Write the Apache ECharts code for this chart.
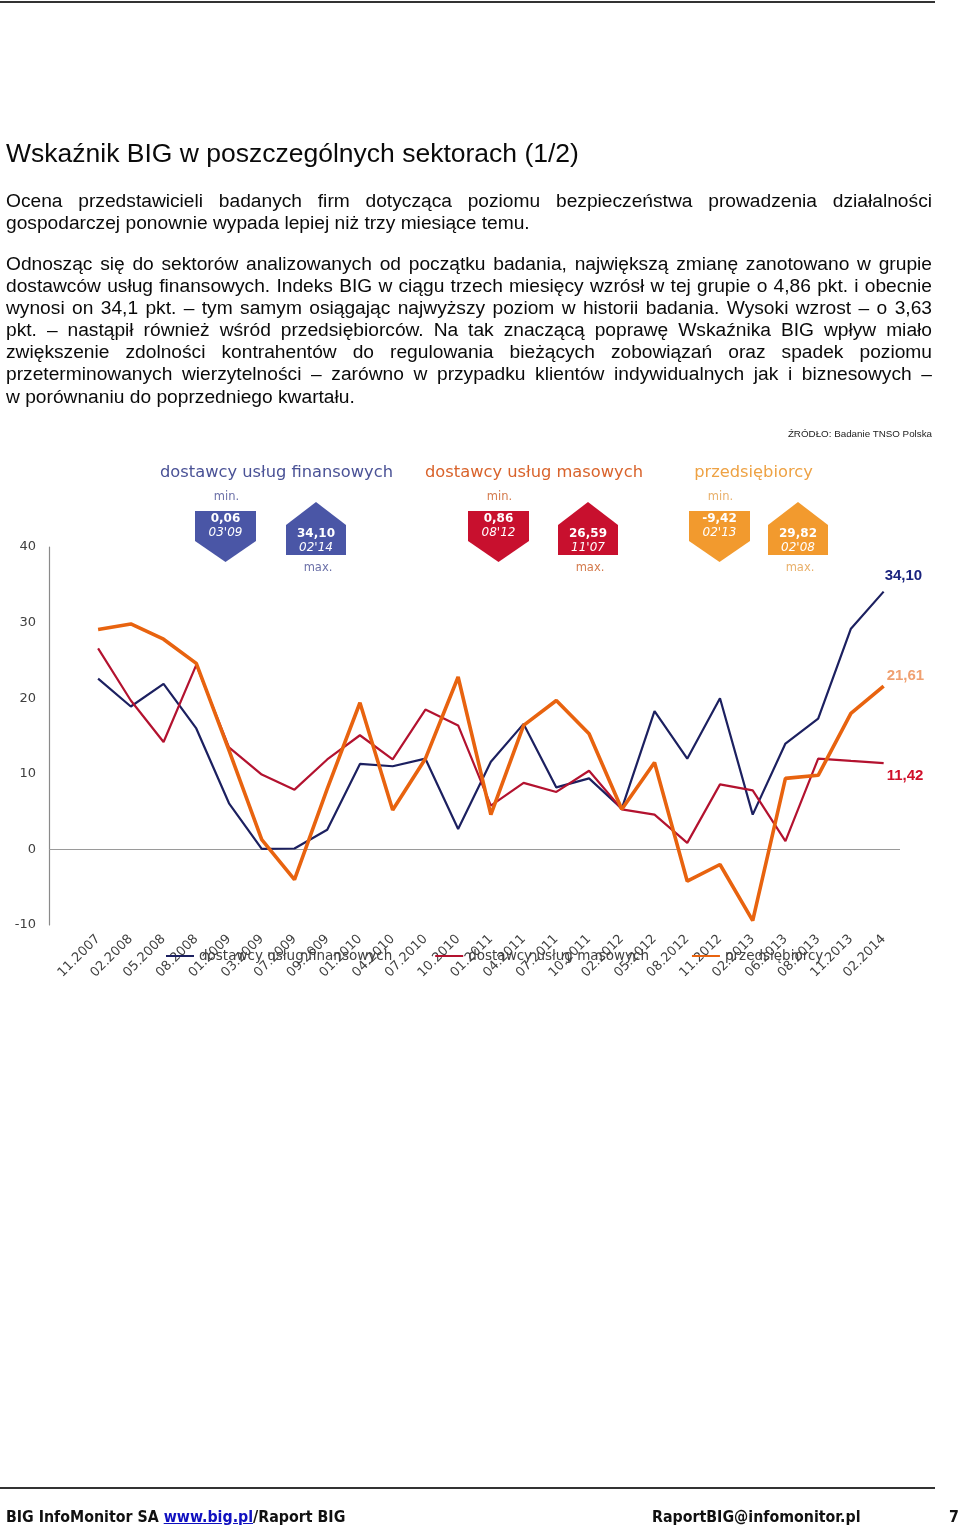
<!DOCTYPE html>
<html>
<head>
<meta charset="utf-8">
<script src="https://cdn.jsdelivr.net/npm/echarts@6/dist/echarts.min.js"></script>
<style>
  html, body { margin: 0; padding: 0; background: #fff; }
  #page { position: relative; width: 960px; height: 1533px; overflow: hidden; }
  #chart { position: absolute; left: 0; top: 0; width: 960px; height: 1533px; z-index: 0; }
  .txt { position: absolute; z-index: 1; font-family: "Liberation Sans", Arial, sans-serif; color: #0a0a0a; }
  .title { left: 6px; top: 138px; font-size: 26.5px; line-height: 30px; white-space: nowrap; }
  .para { left: 6px; width: 926px; font-size: 19.2px; line-height: 22.1px; }
  .para div { white-space: nowrap; text-align: justify; text-align-last: justify; }
  .para div.last { text-align-last: left; }
  .src { right: 28px; top: 427px; font-size: 9.8px; line-height: 13px; color: #222; }
  .rule { position: absolute; left: 0; width: 935px; height: 2px; background: #333; z-index: 1; }
  .foot { top: 1507px; font-family: "DejaVu Sans Condensed", "DejaVu Sans", sans-serif; font-weight: bold; font-size: 15.8px; line-height: 20px; color: #111; white-space: nowrap; }
  .foot a { color: #1010c0; text-decoration: underline; }
</style>
</head>
<body>
<div id="page">
  <div class="rule" style="top:1px;"></div>
  <div class="txt title">Wskaźnik BIG w poszczególnych sektorach (1/2)</div>
  <div class="txt para" style="top:190px;">
    <div>Ocena przedstawicieli badanych firm dotycząca poziomu bezpieczeństwa prowadzenia działalności</div>
    <div class="last">gospodarczej ponownie wypada lepiej niż trzy miesiące temu.</div>
  </div>
  <div class="txt para" style="top:253px;">
    <div>Odnosząc się do sektorów analizowanych od początku badania, największą zmianę zanotowano w grupie</div>
    <div>dostawców usług finansowych. Indeks BIG w ciągu trzech miesięcy wzrósł w tej grupie o 4,86 pkt. i obecnie</div>
    <div>wynosi on 34,1 pkt. – tym samym osiągając najwyższy poziom w historii badania. Wysoki wzrost – o 3,63</div>
    <div>pkt. – nastąpił również wśród przedsiębiorców. Na tak znaczącą poprawę Wskaźnika BIG wpływ miało</div>
    <div>zwiększenie zdolności kontrahentów do regulowania bieżących zobowiązań oraz spadek poziomu</div>
    <div>przeterminowanych wierzytelności – zarówno w przypadku klientów indywidualnych jak i biznesowych –</div>
    <div class="last">w porównaniu do poprzedniego kwartału.</div>
  </div>
  <div class="txt src">ŹRÓDŁO: Badanie TNSO Polska</div>
  <div id="chart"></div>
  <div class="rule" style="top:1487px;"></div>
  <div class="txt foot" style="left:6px;">BIG InfoMonitor SA <a>www.big.pl</a>/Raport BIG</div>
  <div class="txt foot" style="left:652px;">RaportBIG@infomonitor.pl</div>
  <div class="txt foot" style="left:949px;">7</div>
</div>
<script>
// ---- data ----
const categories = ['11.2007','02.2008','05.2008','08.2008','01.2009','03.2009','07.2009','09.2009','01.2010','04.2010','07.2010','10.2010','01.2011','04.2011','07.2011','10.2011','02.2012','05.2012','08.2012','11.2012','02.2013','06.2013','08.2013','11.2013','02.2014'];
const seriesNames = ['dostawcy usług finansowych', 'dostawcy usług masowych', 'przedsiębiorcy'];
const finansowych = [22.6, 18.9, 21.9, 16.0, 6.1, 0.06, 0.12, 2.6, 11.3, 11.0, 12.0, 2.7, 11.6, 16.6, 8.2, 9.4, 5.4, 18.3, 12.0, 20.0, 4.6, 14.0, 17.3, 29.2, 34.10];
const masowych = [26.59, 19.7, 14.2, 24.4, 13.5, 9.9, 7.9, 11.9, 15.1, 11.9, 18.5, 16.4, 5.8, 8.8, 7.6, 10.4, 5.3, 4.6, 0.86, 8.6, 7.8, 1.1, 12.0, 11.7, 11.42];
const przedsiebiorcy = [29.1, 29.82, 27.8, 24.6, 13.1, 1.3, -4.0, 8.0, 19.4, 5.2, 12.0, 22.8, 4.6, 16.4, 19.7, 15.3, 5.3, 11.5, -4.2, -2.0, -9.42, 9.4, 9.8, 18.0, 21.61];
const yTicks = [-10, 0, 10, 20, 30, 40];
const minLabel = 'min.';
const maxLabel = 'max.';

// ---- helpers ----
const fmt = v => v.toFixed(2).replace('.', ',');
const shortDate = c => c.slice(0, 2) + "'" + c.slice(5);
const pairs = arr => arr.map((v, i) => [i, v]);
function extremes(arr) {
  let mi = 0, ma = 0;
  arr.forEach((v, i) => { if (v < arr[mi]) mi = i; if (v > arr[ma]) ma = i; });
  return { min: arr[mi], minDate: shortDate(categories[mi]), max: arr[ma], maxDate: shortDate(categories[ma]) };
}

const colors = ['#1c2060', '#b3122f', '#e8630f'];
const badgeColors = ['#4a56a6', '#c8102e', '#f29a2e'];
const headColors = ['#4a5296', '#d9632b', '#eea244'];
const minMaxColors = ['#6b70a8', '#d47a4c', '#e9b06a'];
const endColors = ['#1a237e', '#d0102a', '#f0a070'];

const chart = echarts.init(document.getElementById('chart'), null, { renderer: 'canvas' });

// badge graphics (layout)
const groups = [
  { cx: 276.5, minX: 195, maxX: 286, data: finansowych },
  { cx: 534, minX: 468, maxX: 558, data: masowych },
  { cx: 753.5, minX: 689, maxX: 768, data: przedsiebiorcy }
];
const graphic = [];
groups.forEach((g, k) => {
  const e = extremes(g.data);
  graphic.push({ type: 'text', x: g.cx, y: 473, style: { text: seriesNames[k], fill: headColors[k], font: '16.3px "DejaVu Sans"', align: 'center', verticalAlign: 'middle' } });
  const w = 61;
  const a = g.minX, mc = a + w / 2;
  graphic.push({ type: 'polygon', shape: { points: [[a, 511], [a + w, 511], [a + w, 541], [mc, 562], [a, 541]] }, style: { fill: badgeColors[k] } });
  graphic.push({ type: 'text', x: mc + 1, y: 497, style: { text: minLabel, fill: minMaxColors[k], font: '11.5px "DejaVu Sans"', align: 'center', verticalAlign: 'middle' } });
  graphic.push({ type: 'text', x: mc, y: 519, style: { text: fmt(e.min), fill: '#fff', font: 'bold 12px "DejaVu Sans"', align: 'center', verticalAlign: 'middle' } });
  graphic.push({ type: 'text', x: mc, y: 532.5, style: { text: e.minDate, fill: '#fff', font: 'italic 12px "DejaVu Sans"', align: 'center', verticalAlign: 'middle' } });
  const b = g.maxX, xc = b + 30;
  graphic.push({ type: 'polygon', shape: { points: [[b, 525], [xc, 502], [b + 60, 525], [b + 60, 555], [b, 555]] }, style: { fill: badgeColors[k] } });
  graphic.push({ type: 'text', x: xc, y: 534, style: { text: fmt(e.max), fill: '#fff', font: 'bold 12px "DejaVu Sans"', align: 'center', verticalAlign: 'middle' } });
  graphic.push({ type: 'text', x: xc, y: 547.5, style: { text: e.maxDate, fill: '#fff', font: 'italic 12px "DejaVu Sans"', align: 'center', verticalAlign: 'middle' } });
  graphic.push({ type: 'text', x: xc + 2, y: 568.5, style: { text: maxLabel, fill: minMaxColors[k], font: '11.5px "DejaVu Sans"', align: 'center', verticalAlign: 'middle' } });
});

const endOffsets = [[1, -16], [3, 13], [3, -10]];
const allData = [finansowych, masowych, przedsiebiorcy];
const widths = [2.2, 2.2, 3.6];

const series = allData.map((d, k) => ({
  name: seriesNames[k],
  type: 'line',
  data: pairs(d),
  showSymbol: false,
  symbol: 'none',
  z: 2 + k,
  lineStyle: { color: colors[k], width: widths[k] },
  itemStyle: { color: colors[k] },
  endLabel: {
    show: true,
    distance: 0,
    offset: endOffsets[k],
    formatter: p => fmt(p.value[1]),
    color: endColors[k],
    fontFamily: '"Liberation Sans", Arial, sans-serif',
    fontWeight: 'bold',
    fontSize: 15
  },
  markLine: k === 0 ? {
    silent: true,
    symbol: 'none',
    label: { show: false },
    lineStyle: { color: '#9a9a9a', width: 1.2, type: 'solid' },
    data: [{ yAxis: 0 }],
    z: 1
  } : undefined
}));

chart.setOption({
  animation: false,
  backgroundColor: 'transparent',
  textStyle: { fontFamily: '"DejaVu Sans", sans-serif' },
  grid: { left: 49, right: 60, top: 547, bottom: 608, containLabel: false },
  legend: {
    left: 165,
    top: 949,
    padding: 0,
    itemWidth: 28,
    itemHeight: 14,
    itemGap: 42,
    itemStyle: { opacity: 0 },
    textStyle: { color: '#404040', fontSize: 13.5, fontFamily: '"DejaVu Sans", sans-serif' },
    data: seriesNames
  },
  xAxis: {
    type: 'value',
    min: -1.5,
    max: 24.5,
    splitLine: { show: false },
    axisLine: { show: false },
    axisTick: { show: false },
    axisLabel: {
      customValues: categories.map((c, i) => i),
      formatter: v => categories[v],
      rotate: 45,
      margin: 12,
      color: '#404040',
      fontSize: 13,
      fontFamily: '"DejaVu Sans", sans-serif',
      hideOverlap: false
    }
  },
  yAxis: {
    type: 'value',
    min: yTicks[0],
    max: yTicks[yTicks.length - 1],
    interval: 10,
    splitLine: { show: false },
    axisTick: { show: false },
    axisLine: { show: true, onZero: false, lineStyle: { color: '#8a8a8a', width: 1.2 } },
    axisLabel: { color: '#404040', fontSize: 13, margin: 13, fontFamily: '"DejaVu Sans", sans-serif' }
  },
  graphic: graphic,
  series: series
});
</script>
</body>
</html>
